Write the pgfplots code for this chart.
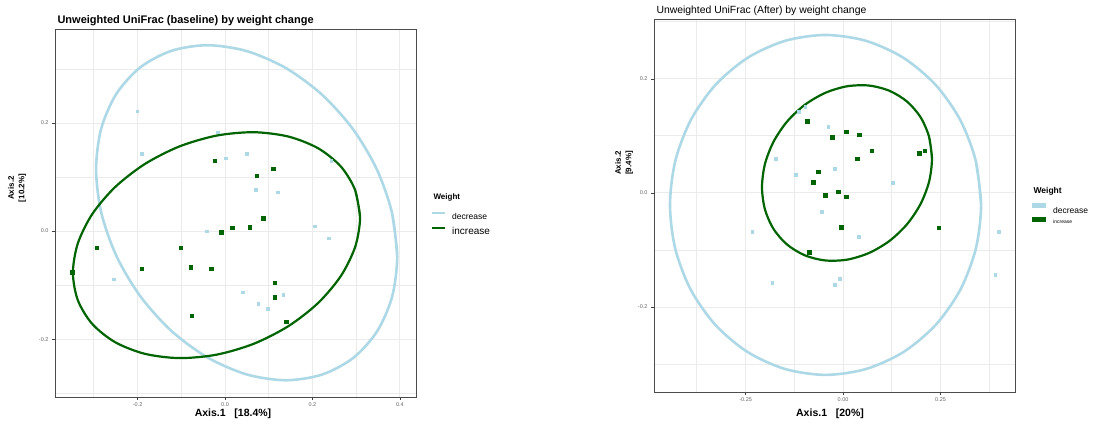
\documentclass[border=0pt]{standalone}
\usepackage{fontspec}
\setmainfont{Liberation Sans}
\usepackage{pgfplots}
\pgfplotsset{compat=1.18}
\definecolor{lb}{HTML}{ADD8E6}
\definecolor{dg}{HTML}{006400}
\definecolor{gridc}{HTML}{EBEBEB}
\pgfplotsset{
 pcoa/.style={
  scale only axis, width=361pt,
  axis line style={draw=black!70, line width=0.8pt},
  grid=both,
  major grid style={gridc, line width=0.9pt},
  minor grid style={gridc, line width=0.9pt},
  tick pos=left, tick align=outside,
  major tick length=3pt, minor tick length=0pt,
  tick style={black!75, line width=0.6pt},
  ticklabel style={font=\fontsize{5.5}{6}\selectfont, text=black!60},
  /pgf/number format/assume math mode=true,
  xticklabel style={yshift=1pt},
  clip=true,
 },
 bl/.style={only marks, mark=square*, mark size=1.4pt, lb, mark options={draw=lb, fill=lb}},
 gr/.style={only marks, mark=square*, mark size=1.7pt, dg, mark options={draw=dg, fill=dg}},
 ebl/.style={smooth, no marks, lb, line width=2.6pt},
 egr/.style={smooth, no marks, dg, line width=2.2pt},
}
\begin{document}
\begin{tikzpicture}[x=1pt,y=1pt]
\path (0,0) rectangle (1100,423);
% ---------------- left panel ----------------
\begin{axis}[pcoa, at={(55pt,26pt)}, anchor=south west, height=368pt,
  xmin=-0.389, xmax=0.437, ymin=-0.307, ymax=0.374,
  xtick={-0.2,0,0.2,0.4}, xticklabels={-0.2,0.0,0.2,0.4},
  minor xtick={-0.3,-0.1,0.1,0.3},
  ytick={-0.2,0,0.2}, yticklabels={-0.2,0.0,0.2},
  minor ytick={-0.3,-0.1,0.1,0.3}]
\addplot[ebl] coordinates {
(0.394,-0.047) (0.3823,0.0332) (0.3478,0.1135) (0.2931,0.1883) (0.2218,0.2526)
(0.1387,0.3020) (0.0495,0.3332) (-0.0397,0.3440) (-0.1228,0.3336) (-0.1941,0.3029)
(-0.2488,0.2537) (-0.2833,0.1896) (-0.295,0.115) (-0.2833,0.0348) (-0.2488,-0.0455)
(-0.1941,-0.1203) (-0.1228,-0.1846) (-0.0397,-0.234) (0.0495,-0.2652) (0.1387,-0.276)
(0.2218,-0.2656) (0.2931,-0.2349) (0.3478,-0.1857) (0.3823,-0.1216) (0.394,-0.047)
(0.3823,0.0332)};
\addplot[egr] coordinates {
(0.309,0.025) (0.2978,0.0758) (0.2650,0.1196) (0.2128,0.1534) (0.1448,0.175)
(0.0655,0.183) (-0.0195,0.1767) (-0.1045,0.1566) (-0.1838,0.124) (-0.2518,0.0812)
(-0.304,0.0312) (-0.3368,-0.0228) (-0.348,-0.077) (-0.3368,-0.1278) (-0.304,-0.1716)
(-0.2518,-0.2054) (-0.1838,-0.227) (-0.1045,-0.235) (-0.0195,-0.2287) (0.0655,-0.2086)
(0.1448,-0.176) (0.2128,-0.1332) (0.2650,-0.0832) (0.2978,-0.0292) (0.309,0.025)
(0.2978,0.0758)};
\addplot[bl] coordinates {
(-0.201,0.222) (-0.190,0.143) (-0.016,0.183) (0.002,0.135) (0.050,0.143)
(0.071,0.076) (0.121,0.072) (0.243,0.131) (-0.041,0.000) (0.206,0.009)
(0.238,-0.013) (-0.254,-0.089) (0.041,-0.113) (0.133,-0.117) (0.076,-0.135)
(0.098,-0.144)};
\addplot[gr] coordinates {
(-0.023,0.130) (0.073,0.102) (0.110,0.115) (0.087,0.024) (0.057,0.007)
(0.016,0.006) (-0.009,-0.002) (-0.293,-0.031) (-0.101,-0.031) (-0.190,-0.070)
(-0.078,-0.067) (-0.032,-0.070) (-0.350,-0.076) (0.114,-0.096) (0.114,-0.122)
(-0.076,-0.156) (0.140,-0.168)};
\end{axis}
\node[anchor=west, font=\bfseries\fontsize{11}{12}\selectfont] at (54,402) {Unweighted UniFrac (baseline) by weight change};
\node[font=\bfseries\fontsize{10.5}{11}\selectfont] at (233,9) {Axis.1\ \ \ [18.4\%]};
\node[rotate=90, align=center, font=\bfseries\fontsize{8}{10.5}\selectfont] at (17,235) {Axis.2\\{[10.2\%]}};
% left legend
\node[anchor=west, font=\bfseries\fontsize{8}{9}\selectfont] at (430,226) {Weight};
\draw[lb, line width=2.4pt] (432,210) -- (445,210);
\draw[dg, line width=2.4pt] (432,195) -- (445,195);
\node[anchor=west, font=\fontsize{8.5}{9}\selectfont, inner sep=0pt] at (452,207) {decrease};
\node[anchor=west, font=\fontsize{10}{11}\selectfont, inner sep=0pt] at (452,192) {increase};
% ---------------- right panel ----------------
\begin{axis}[pcoa, at={(654pt,31pt)}, anchor=south west, height=373pt,
  xmin=-0.485, xmax=0.441, ymin=-0.349, ymax=0.305,
  xtick={-0.25,0,0.25}, xticklabels={-0.25,0.00,0.25},
  minor xtick={-0.375,-0.125,0.125,0.375},
  ytick={-0.2,0,0.2}, yticklabels={-0.2,0.0,0.2},
  minor ytick={-0.3,-0.1,0.1,0.3}]
\addplot[ebl] coordinates {
(0.354,-0.021) (0.3404,0.0561) (0.3005,0.128) (0.2371,0.1897) (0.1545,0.2371)
(0.0583,0.2668) (-0.045,0.277) (-0.1483,0.2668) (-0.2445,0.2371) (-0.3271,0.1897)
(-0.3905,0.128) (-0.4304,0.0561) (-0.444,-0.021) (-0.4304,-0.0981) (-0.3905,-0.170)
(-0.3271,-0.2317) (-0.2445,-0.2791) (-0.1483,-0.3088) (-0.045,-0.319) (0.0583,-0.3088)
(0.1545,-0.2791) (0.2371,-0.2317) (0.3005,-0.170) (0.3404,-0.0981) (0.354,-0.021)
(0.3404,0.0561)};
\addplot[egr] coordinates {
(0.228,0.060) (0.2206,0.0984) (0.1988,0.1327) (0.1641,0.1602) (0.119,0.1791)
(0.0664,0.1883) (0.01,0.187) (-0.0464,0.1753) (-0.099,0.1541) (-0.1441,0.1248)
(-0.1788,0.0893) (-0.2006,0.0502) (-0.208,0.010) (-0.2006,-0.0284) (-0.1788,-0.0627)
(-0.1441,-0.0902) (-0.099,-0.1091) (-0.0464,-0.1183) (0.01,-0.117) (0.0664,-0.1053)
(0.119,-0.0841) (0.1641,-0.0548) (0.1988,-0.0193) (0.2206,0.0198) (0.228,0.060)
(0.2206,0.0984)};
\addplot[bl] coordinates {
(-0.113,0.142) (-0.097,0.151) (-0.038,0.116) (-0.172,0.060) (-0.121,0.032)
(-0.021,0.042) (0.128,0.018) (-0.054,-0.033) (-0.233,-0.068) (0.041,-0.077)
(0.400,-0.068) (0.390,-0.144) (-0.182,-0.158) (-0.008,-0.151) (-0.021,-0.161)};
\addplot[gr] coordinates {
(-0.092,0.126) (0.008,0.107) (0.041,0.102) (-0.028,0.098) (0.074,0.074)
(0.210,0.074) (0.195,0.070) (0.036,0.060) (-0.064,0.037) (-0.077,0.019)
(-0.013,0.002) (-0.046,-0.004) (0.008,-0.007) (-0.005,-0.060) (0.246,-0.061)
(-0.087,-0.104)};
\end{axis}
\node[anchor=west, font=\fontsize{10.4}{11}\selectfont] at (653,412) {Unweighted UniFrac (After) by weight change};
\node[font=\bfseries\fontsize{10.5}{11}\selectfont] at (830,9) {Axis.1\ \ \ [20\%]};
\node[rotate=90, align=center, font=\bfseries\fontsize{8}{10.5}\selectfont] at (624,260) {Axis.2\\{[9.4\%]}};
% right legend
\node[anchor=west, font=\bfseries\fontsize{8.5}{9}\selectfont] at (1030,232) {Weight};
\fill[lb] (1032,214.5) rectangle (1046,219.5);
\fill[dg] (1032,200.5) rectangle (1046,205.5);
\node[anchor=west, font=\fontsize{8.5}{9}\selectfont, inner sep=0pt] at (1053,213) {decrease};
\node[anchor=west, font=\fontsize{5}{6}\selectfont, inner sep=0pt] at (1053,201) {increase};
\end{tikzpicture}
\end{document}
